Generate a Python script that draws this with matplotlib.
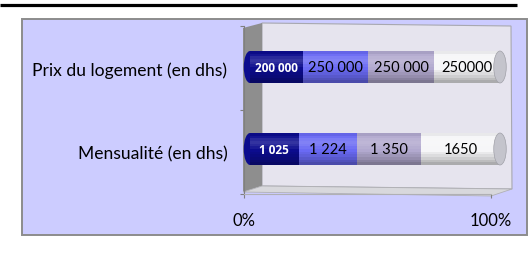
import matplotlib
matplotlib.use("Agg")
import matplotlib.pyplot as plt
from matplotlib.patches import Rectangle, Polygon, Ellipse
import numpy as np

plt.rcParams['font.family'] = ['Lato', 'DejaVu Sans']

categories = ["Mensualité (en dhs)", "Prix du logement (en dhs)"]
mensualite = [1025, 1224, 1350, 1650]
prix = [200000, 250000, 250000, 250000]
mensualite_labels = ["1 025", "1 224", "1 350", "1650"]
prix_labels = ["200 000", "250 000", "250 000", "250000"]
tick_labels = ["0%", "100%"]

seg_colors = ["#0c0c8e", "#6a6af4", "#b2a9cf", "#f6f6f8"]
series = [mensualite, prix]
series_labels = [mensualite_labels, prix_labels]

W, H = 530, 255
fig = plt.figure(figsize=(W / 100, H / 100), dpi=100)


def fig_rect(x0, y0, x1, y1):
    # pixel box (y from top) -> figure fraction
    return [x0 / W, (H - y1) / H, (x1 - x0) / W, (y1 - y0) / H]


# background layer: frame, rule, 3d walls
bg = fig.add_axes([0, 0, 1, 1])
bg.set_xlim(0, W)
bg.set_ylim(H, 0)
bg.axis('off')
bg.plot([0, 517], [6, 6], color='black', lw=2.3, solid_capstyle='butt')
bg.add_patch(Rectangle((22, 20), 505, 216, facecolor='#ccccff', edgecolor='#8c8c8c', lw=1.4))
bg.add_patch(Polygon([(262, 24), (511, 27), (512, 190), (262, 187)], facecolor='#e6e4ee', edgecolor='#a8a8b0', lw=0.8))
bg.add_patch(Polygon([(243, 29), (262, 24), (262, 187), (243, 193)], facecolor='#8e8e8e', edgecolor='none'))
bg.add_patch(Polygon([(243, 193), (262, 187), (512, 190), (491, 197)], facecolor='#d8d8dc', edgecolor='#b0b0b4', lw=0.6))

# axis layer: category ticks and 0/100% ticks
fax = fig.add_axes(fig_rect(244, 27, 491, 195))
fax.patch.set_alpha(0)
fax.set_xlim(0, 1)
fax.set_ylim(0, 2)
fax.set_xticks([0, 1])
fax.set_xticklabels(tick_labels, fontsize=12)
fax.set_yticks([0, 1, 2])
fax.set_yticklabels([])
fax.set_yticks([0.5, 1.5], minor=True)
fax.set_yticklabels(categories, minor=True, fontsize=12.6)
fax.tick_params(axis='y', which='minor', length=0, pad=12)
fax.tick_params(axis='y', which='major', length=3, color='#808080')
fax.tick_params(axis='x', length=3, color='#808080', pad=10)
for s in ['top', 'right']:
    fax.spines[s].set_visible(False)
fax.spines['left'].set_color('#808080')
fax.spines['bottom'].set_color('#b0b0b4')

# bars layer
bax = fig.add_axes(fig_rect(243, 25, 510, 195))
bax.patch.set_alpha(0)
bax.set_xlim((243 - 250) / 250, (510 - 250) / 250)
bax.set_ylim(-(195 - 150) / 82, 1 + (68 - 25) / 82)
bax.axis('off')

h = 0.39
cap_w = 0.05
# cylinder shading profile, bottom -> top (negative = darken, positive = lighten)
shade = [-0.30, -0.23, -0.16, -0.10, -0.05, 0.0, 0.06, 0.12, 0.16, 0.12, 0.04, -0.05]
n = len(shade)
for yi, (vals, labs) in enumerate(zip(series, series_labels)):
    frac = np.array(vals) / np.sum(vals)
    left = np.concatenate([[0], np.cumsum(frac)[:-1]])
    bax.add_patch(Ellipse((0, yi), cap_w, h, facecolor=seg_colors[0], edgecolor='none'))
    bax.barh(yi, frac, left=left, height=h, color=seg_colors, edgecolor='none')
    for k, s in enumerate(shade):
        yk = yi - h / 2 + (k + 0.5) * h / n
        bax.barh(yk, frac, left=left, height=h / n * 1.02, color='black' if s < 0 else 'white',
                 alpha=abs(s), edgecolor='none', linewidth=0)
    bax.add_patch(Ellipse((1, yi), cap_w, h, facecolor='#c4c4cc', edgecolor='#a0a0a8', lw=0.5))
    for j, (l, f, t) in enumerate(zip(left, frac, labs)):
        if j == 0:
            bax.text(l + f / 2, yi, t, ha='center', va='center', color='white',
                     fontsize=8.5, fontweight='bold', family=['Open Sans', 'DejaVu Sans'])
        else:
            bax.text(l + f / 2, yi, t, ha='center', va='center', color='black', fontsize=10.5)

fig.savefig("out.png", dpi=100)
